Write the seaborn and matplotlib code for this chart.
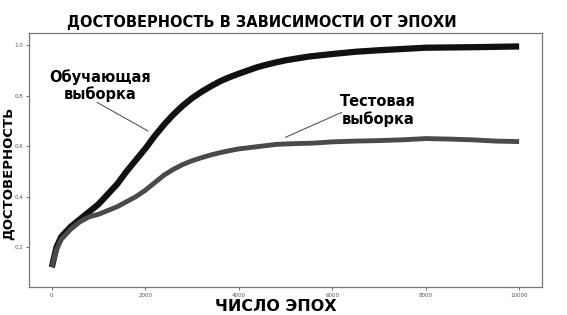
import matplotlib
matplotlib.use('Agg')
import matplotlib.pyplot as plt
import seaborn as sns
import pandas as pd

# accuracy vs epoch
train_epochs = [0, 100, 200, 400, 600, 800, 1000, 1200, 1400, 1600, 1800, 2000, 2200, 2400,
                2600, 2800, 3000, 3200, 3400, 3600, 3800, 4000, 4200, 4400, 4600, 4800, 5000,
                5500, 6000, 6500, 7000, 7500, 8000, 9000, 10000]
train_acc = [0.12, 0.20, 0.24, 0.28, 0.31, 0.34, 0.37, 0.41, 0.45, 0.50, 0.545, 0.59, 0.64, 0.685,
             0.725, 0.76, 0.79, 0.815, 0.837, 0.857, 0.873, 0.887, 0.90, 0.913, 0.923, 0.932, 0.94,
             0.955, 0.965, 0.974, 0.98, 0.985, 0.99, 0.992, 0.995]

test_epochs = [0, 100, 200, 400, 600, 800, 1000, 1200, 1400, 1600, 1800, 2000, 2200, 2400,
               2600, 2800, 3000, 3200, 3400, 3600, 3800, 4000, 4400, 4800, 5200, 5600, 6000,
               6500, 7000, 7500, 8000, 8500, 9000, 9500, 10000]
test_acc = [0.12, 0.19, 0.23, 0.27, 0.30, 0.32, 0.33, 0.345, 0.36, 0.38, 0.40, 0.425, 0.455, 0.485,
            0.508, 0.527, 0.542, 0.554, 0.565, 0.574, 0.582, 0.589, 0.598, 0.607, 0.61, 0.612, 0.617,
            0.62, 0.622, 0.625, 0.63, 0.628, 0.625, 0.62, 0.618]

x_ticks = [0, 2000, 4000, 6000, 8000, 10000]
y_ticks = [0.2, 0.4, 0.6, 0.8, 1.0]

sns.set_style('white')
plt.rcParams['font.family'] = ['DejaVu Sans']
plt.rcParams['text.color'] = 'black'

train = pd.DataFrame({'epoch': train_epochs, 'acc': train_acc})
test = pd.DataFrame({'epoch': test_epochs, 'acc': test_acc})

fig = plt.figure(figsize=(5.67, 3.15), dpi=100)
ax = fig.add_axes([0.051, 0.089, 0.905, 0.806])

sns.lineplot(data=train, x='epoch', y='acc', ax=ax, color='#111111', linewidth=4.5,
             solid_capstyle='butt', solid_joinstyle='round')
sns.lineplot(data=test, x='epoch', y='acc', ax=ax, color='#4a4a4a', linewidth=3.5,
             solid_capstyle='butt', solid_joinstyle='round')

ax.set_xlim(-490, 10490)
ax.set_ylim(0.042, 1.048)
ax.set_xticks(x_ticks)
ax.set_yticks(y_ticks)
ax.set_xticklabels([str(t) for t in x_ticks])
ax.set_yticklabels([f'{t:.1f}' for t in y_ticks])
ax.tick_params(labelsize=4, colors='#555555', length=2, width=0.6, pad=2)
ax.tick_params(axis='both', which='both', bottom=True, left=True)
for s in ax.spines.values():
    s.set_color('#777777')
    s.set_linewidth(0.9)

ax.set_xlabel('')
ax.set_ylabel('')

fig.text(0.462, 0.927, 'ДОСТОВЕРНОСТЬ В ЗАВИСИМОСТИ ОТ ЭПОХИ', ha='center', va='center',
         fontsize=10.5, fontweight='bold', color='black')
fig.text(0.487, 0.027, 'ЧИСЛО ЭПОХ', ha='center', va='center', fontsize=11.5,
         fontweight='bold', color='black')
fig.text(0.014, 0.45, 'ДОСТОВЕРНОСТЬ', ha='center', va='center', rotation=90,
         fontsize=9.5, fontweight='bold', color='black')

ax.annotate('Обучающая\nвыборка', xy=(2060, 0.66), xytext=(1030, 0.84),
            ha='center', va='center', fontsize=10.5, fontweight='bold', linespacing=1.15,
            color='black',
            arrowprops=dict(arrowstyle='-', color='#444444', lw=0.7, shrinkA=0, shrinkB=0,
                            patchA=None, relpos=(0.47, 0.0)))
ax.annotate('Тестовая\nвыборка', xy=(5000, 0.635), xytext=(6980, 0.74),
            ha='center', va='center', fontsize=10.5, fontweight='bold', linespacing=1.15,
            color='black',
            arrowprops=dict(arrowstyle='-', color='#444444', lw=0.7, shrinkA=0, shrinkB=0,
                            patchA=None, relpos=(0.02, 0.45)))

fig.savefig('out.png', dpi=100)
